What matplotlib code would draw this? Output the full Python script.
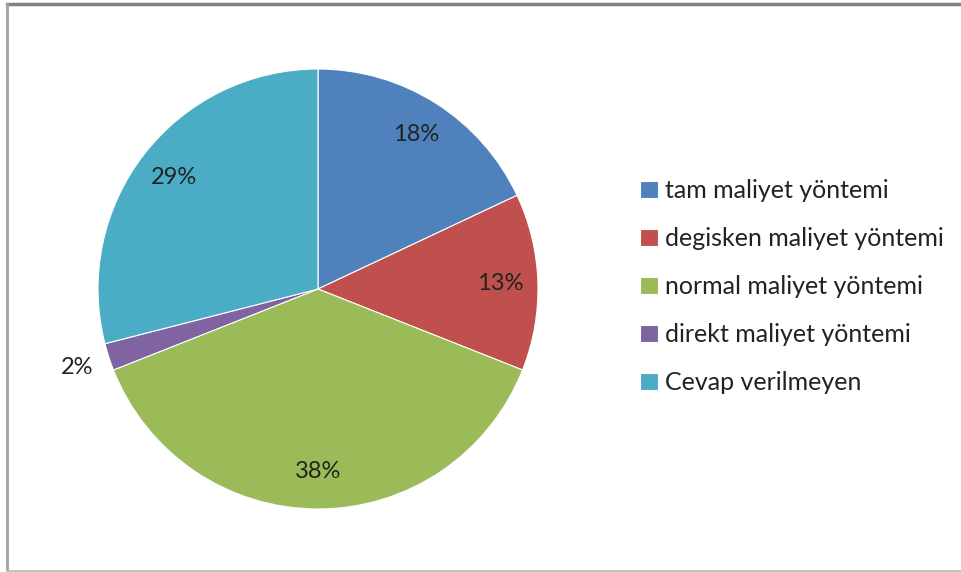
import numpy as np
import matplotlib.pyplot as plt
from matplotlib.lines import Line2D

labels = ['tam maliyet yöntemi', 'degisken maliyet yöntemi', 'normal maliyet yöntemi',
          'direkt maliyet yöntemi', 'Cevap verilmeyen']
shares = [18, 13, 38, 2, 29]
colors = ['#4F81BD', '#C0504D', '#9BBB59', '#8064A2', '#4BACC6']

plt.rcParams['font.family'] = ['Lato', 'DejaVu Sans']

W, H = 962, 572
fig = plt.figure(figsize=(W / 100, H / 100), dpi=100)

# outer frame (top, left, bottom; no right edge visible)
fig.lines.append(Line2D([7 / W, 1], [1 - 4 / H, 1 - 4 / H], transform=fig.transFigure,
                        color='#808080', linewidth=2.5))
fig.lines.append(Line2D([7 / W, 7 / W], [1 / H, 1 - 4 / H], transform=fig.transFigure,
                        color='#a0a0a0', linewidth=2))
fig.lines.append(Line2D([7 / W, 1], [1.5 / H, 1.5 / H], transform=fig.transFigure,
                        color='#c0c0c0', linewidth=2))

ax = fig.add_axes([98 / W, (H - 509) / H, 440 / W, 440 / H])
wedges, texts, autotexts = ax.pie(shares, colors=colors, startangle=90, counterclock=False,
                                  autopct='%1.0f%%', pctdistance=0.83,
                                  wedgeprops={'edgecolor': 'white', 'linewidth': 0.8},
                                  textprops={'fontsize': 17, 'color': '#222222'})
ax.set_xlim(-1, 1)
ax.set_ylim(-1, 1)
ax.set_aspect('equal')

# small slice label sits outside the pie
for w, t, v in zip(wedges, autotexts, shares):
    if v < 5:
        ang = np.deg2rad((w.theta1 + w.theta2) / 2)
        t.set_position((1.15 * np.cos(ang), 1.15 * np.sin(ang)))

fig.legend(wedges, labels, loc='upper left', bbox_to_anchor=(640 / W, 1 - 179 / H),
           frameon=False, fontsize=18, handlelength=0.7, handleheight=0.7,
           handletextpad=0.3, labelspacing=1.0, borderaxespad=0, borderpad=0,
           labelcolor='#222222')

fig.savefig('out.png', dpi=100)
